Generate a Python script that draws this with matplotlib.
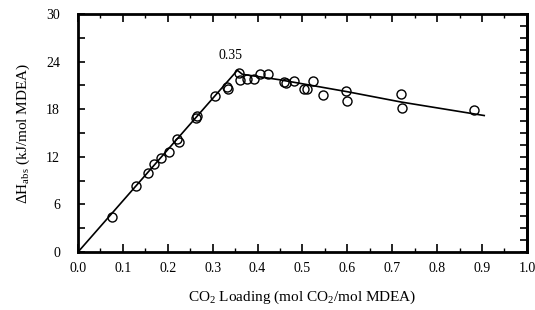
import matplotlib
matplotlib.use("Agg")
import matplotlib.pyplot as plt
from matplotlib.ticker import MultipleLocator, NullFormatter

# measured points (CO2 loading, heat of absorption)
loading = [0.076, 0.130, 0.155, 0.170, 0.186, 0.203, 0.221, 0.225, 0.262, 0.264,
           0.306, 0.333, 0.335, 0.359, 0.361, 0.377, 0.391, 0.406, 0.424,
           0.460, 0.463, 0.482, 0.504, 0.510, 0.524, 0.545, 0.597, 0.600,
           0.719, 0.721, 0.882]
dh_abs = [4.45, 8.3, 10.0, 11.1, 11.8, 12.6, 14.3, 13.9, 16.9, 17.1,
          19.6, 20.8, 20.5, 22.6, 21.7, 21.8, 21.8, 22.4, 22.4,
          21.4, 21.3, 21.6, 20.5, 20.5, 21.5, 19.8, 20.3, 19.0,
          19.9, 18.2, 17.9]

# model curve
fit_x = [0.0, 0.355, 0.366, 0.45, 0.50, 0.60, 0.72, 0.905]
fit_y = [0.0, 22.9, 22.4, 21.7, 21.2, 20.2, 18.9, 17.2]

x_ticks = [0.0, 0.1, 0.2, 0.3, 0.4, 0.5, 0.6, 0.7, 0.8, 0.9, 1.0]
y_ticks = [0, 6, 12, 18, 24, 30]

plt.rcParams["font.family"] = ["Liberation Serif", "DejaVu Serif"]
plt.rcParams["mathtext.fontset"] = "custom"
plt.rcParams["mathtext.rm"] = "Liberation Serif"

fig = plt.figure(figsize=(5.35, 3.10), dpi=100)
ax = fig.add_axes([0.1458, 0.187, 0.839, 0.768])

ax.plot(fit_x, fit_y, color="black", linewidth=1.2)
ax.plot(loading, dh_abs, linestyle="none", marker="o", markersize=6.5,
        markerfacecolor="none", markeredgecolor="black", markeredgewidth=1.0)
ax.text(0.34, 24.8, "0.35", fontsize=10, ha="center", va="center")

ax.set_xlim(0, 1.0)
ax.set_ylim(0, 30)
ax.set_xticks(x_ticks)
ax.set_xticklabels([f"{v:.1f}" for v in x_ticks])
ax.xaxis.set_minor_locator(MultipleLocator(0.05))
ax.set_yticks(y_ticks)
ax.yaxis.set_minor_locator(MultipleLocator(3))

ax.tick_params(axis="x", which="major", direction="in", length=6, width=1.2,
               top=True, labelsize=10, pad=7)
ax.tick_params(axis="x", which="minor", direction="in", length=3, width=1.0, top=True)
ax.tick_params(axis="y", which="both", direction="in", length=5, width=1.2,
               right=False, labelsize=10, pad=13)

sec = ax.secondary_yaxis("right")
sec.yaxis.set_major_locator(MultipleLocator(1.5))
sec.yaxis.set_major_formatter(NullFormatter())
sec.tick_params(direction="in", length=5, width=1.2)
sec.spines["right"].set_linewidth(2)

for s in ax.spines.values():
    s.set_linewidth(2)

ax.set_xlabel(r"CO$_\mathrm{2}$ Loading (mol CO$_\mathrm{2}$/mol MDEA)", fontsize=11, labelpad=10)
ax.set_ylabel(r"$\Delta$H$_\mathrm{abs}$ (kJ/mol MDEA)", fontsize=11, labelpad=10)

fig.savefig("out.png", dpi=100)
